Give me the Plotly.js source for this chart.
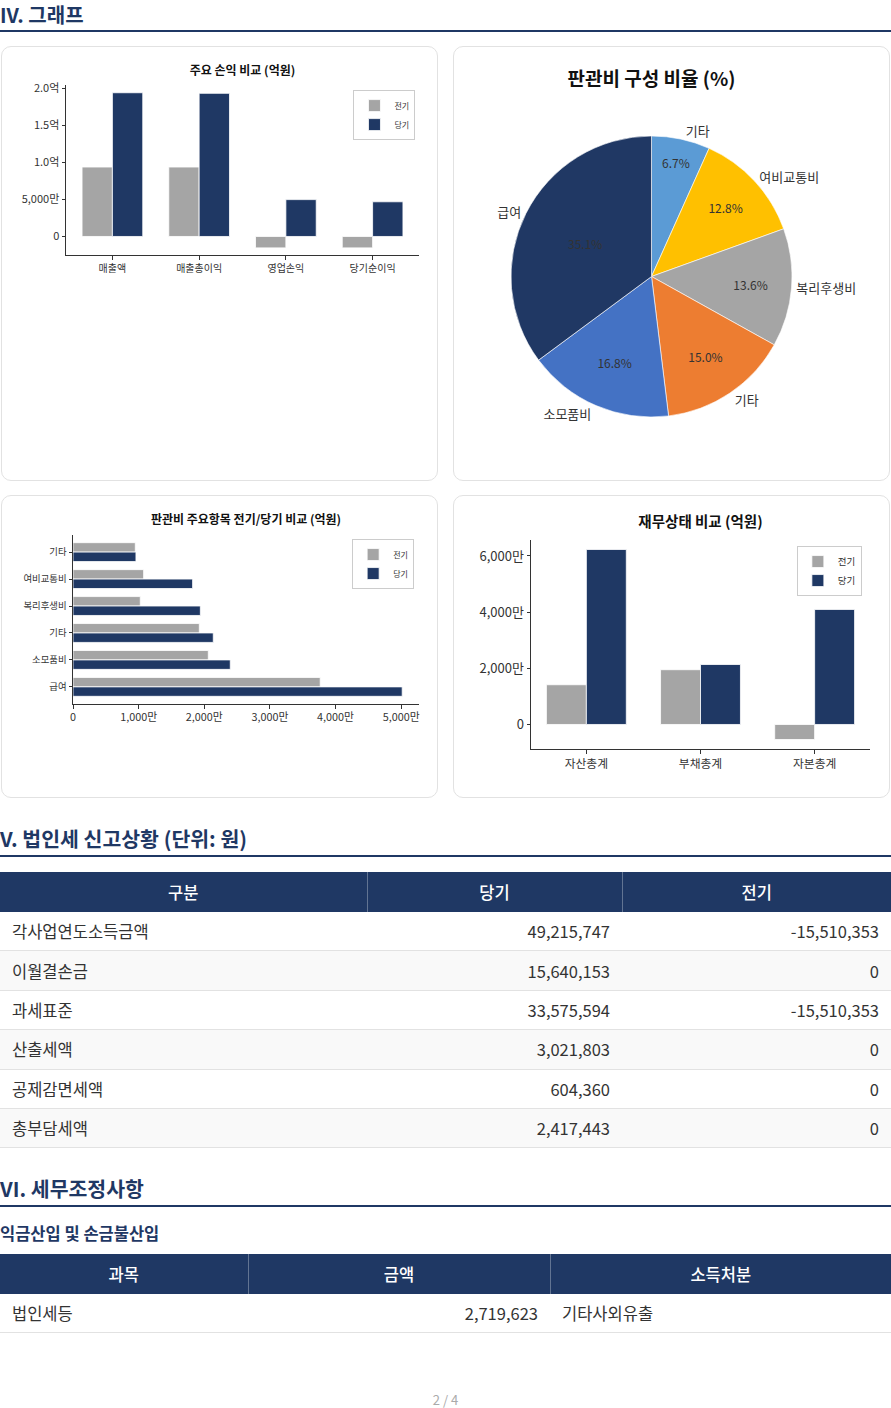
<!DOCTYPE html>
<html>
<head>
<meta charset="utf-8">
<script src="https://cdn.plot.ly/plotly-3.0.1.min.js"></script>
<style>
body { margin: 0; background: #fff; font-family: "Noto Sans CJK KR", "Noto Sans", sans-serif; color: #333; }
#page { position: relative; width: 891px; height: 1408px; overflow: hidden; }
.sec { position: absolute; left: 0; width: 891px; font-size: 20.5px; font-weight: 600; color: #1F3864;
       line-height: 26px; padding-bottom: 4px; border-bottom: 2px solid #1F3864; }
.sec.first { line-height: 30px; padding-bottom: 0; font-size: 20px; }
.sub { position: absolute; left: 0; font-size: 16.5px; font-weight: 700; color: #1F3864; line-height: 20px; }
.card { position: absolute; box-sizing: border-box; border: 1px solid #e2e2e2; border-radius: 10px; background: #fff; }
.plot { position: absolute; }
table { position: absolute; left: 0; width: 891px; border-collapse: collapse; table-layout: fixed; font-size: 16.5px; }
th { background: #1F3864; color: #fff; font-weight: 500; height: 40px; padding: 0; border-left: 1px solid rgba(255,255,255,.3); }
th:first-child { border-left: none; }
td { height: 38.4px; padding: 0 12px; border-bottom: 1px solid #e2e2e2; color: #333; }
tbody tr:nth-child(even) td { background: #f9f9f9; }
td.num { text-align: right; }
#foot { position: absolute; left: 0; width: 891px; top: 1390px; line-height: 20px; text-align: center; font-size: 13px; color: #aaa; }
</style>
</head>
<body>
<div id="page">
  <div class="sec first" style="top:0px">IV. 그래프</div>
  <div class="card" style="left:1px;top:46px;width:437px;height:435px"></div>
  <div class="card" style="left:453px;top:46px;width:437px;height:435px"></div>
  <div class="card" style="left:1px;top:495px;width:437px;height:303px"></div>
  <div class="card" style="left:453px;top:495px;width:437px;height:303px"></div>
  <div id="chart1" class="plot" style="left:2px;top:47px"></div>
  <div id="chart2" class="plot" style="left:455px;top:47px"></div>
  <div id="chart3" class="plot" style="left:2px;top:496px"></div>
  <div id="chart4" class="plot" style="left:455px;top:496px"></div>

  <div class="sec" style="top:825px">V. 법인세 신고상황 (단위: 원)</div>
  <table id="taxTable" style="top:872px">
    <colgroup><col style="width:367px"><col style="width:255px"><col style="width:269px"></colgroup>
    <thead><tr><th>구분</th><th>당기</th><th>전기</th></tr></thead>
    <tbody></tbody>
  </table>

  <div class="sec" style="top:1175px">VI. 세무조정사항</div>
  <div class="sub" style="top:1223px">익금산입 및 손금불산입</div>
  <table id="adjTable" style="top:1254px">
    <colgroup><col style="width:248px"><col style="width:302px"><col style="width:341px"></colgroup>
    <thead><tr><th>과목</th><th>금액</th><th>소득처분</th></tr></thead>
    <tbody></tbody>
  </table>

  <div id="foot">2 / 4</div>
</div>

<script>
var FONT = '"Noto Sans CJK KR", "Noto Sans", sans-serif';
var GRAY = '#A5A5A5';
var NAVY = '#1F3864';

// 주요 손익 (만원)
var plCats = ['매출액', '매출총이익', '영업손익', '당기순이익'];
var plPrev = [9370, 9370, -1540, -1540];
var plCur = [19395, 19315, 4973, 4680];
var plTickVals = [0, 5000, 10000, 15000, 20000];
var plTickText = ['0', '5,000만', '1.0억', '1.5억', '2.0억'];

// 판관비 주요항목 (만원), 아래에서 위 순서
var sgaCats = ['급여', '소모품비', '기타', '복리후생비', '여비교통비', '기타'];
var sgaPrev = [3766, 2061, 1924, 1025, 1076, 949];
var sgaCur = [5015, 2396, 2137, 1940, 1822, 959];
var sgaTickVals = [0, 1000, 2000, 3000, 4000, 5000];
var sgaTickText = ['0', '1,000만', '2,000만', '3,000만', '4,000만', '5,000만'];
var pieColors = ['#203864', '#4472C4', '#ED7D31', '#A5A5A5', '#FFC000', '#5B9BD5'];

// 재무상태 (만원)
var bsCats = ['자산총계', '부채총계', '자본총계'];
var bsPrev = [1415, 1950, -535];
var bsCur = [6230, 2135, 4095];
var bsTickVals = [0, 2000, 4000, 6000];
var bsTickText = ['0', '2,000만', '4,000만', '6,000만'];

// 법인세 신고상황 (원)
var taxItems = ['각사업연도소득금액', '이월결손금', '과세표준', '산출세액', '공제감면세액', '총부담세액'];
var taxCur = [49215747, 15640153, 33575594, 3021803, 604360, 2417443];
var taxPrev = [-15510353, 0, -15510353, 0, 0, 0];

// 세무조정
var adjItems = ['법인세등'];
var adjAmounts = [2719623];
var adjDisposal = ['기타사외유출'];

function fmt(v) { return v.toLocaleString('en-US'); }
function idx(arr) { return arr.map(function (c, i) { return i; }); }
function rev(arr) { return arr.slice().reverse(); }

function axis(extra) {
  return Object.assign({
    showline: true, linecolor: '#333', linewidth: 1,
    ticks: 'outside', ticklen: 3.5, tickwidth: 1, tickcolor: '#333',
    showgrid: false, zeroline: false, fixedrange: true
  }, extra);
}

function legendAt(x, y, size) {
  return { x: x, y: y, xanchor: 'right', yanchor: 'top', bgcolor: '#fff',
           bordercolor: '#ccc', borderwidth: 1, font: { size: size, color: '#333' }, itemwidth: 30 };
}

var conf = { staticPlot: true };
var barLine = { color: '#fff', width: 0.8 };

//=====================
// 주요 손익 비교
//=====================
Plotly.newPlot('chart1', [
  { type: 'bar', name: '전기', x: idx(plCats), y: plPrev, width: 0.35, offset: -0.35,
    marker: { color: GRAY, line: barLine } },
  { type: 'bar', name: '당기', x: idx(plCats), y: plCur, width: 0.35, offset: 0,
    marker: { color: NAVY, line: barLine } }
], {
  width: 434, height: 240, margin: { l: 64, r: 17, t: 38, b: 32 },
  barmode: 'overlay', showlegend: true,
  font: { family: FONT, size: 10, color: '#333' },
  paper_bgcolor: 'rgba(0,0,0,0)', plot_bgcolor: 'rgba(0,0,0,0)',
  title: { text: '주요 손익 비교 (억원)', font: { size: 12, color: '#111', weight: 700 },
           x: 0.5, xref: 'paper', xanchor: 'center', y: 0.9, yref: 'container', yanchor: 'middle' },
  xaxis: axis({ range: [-0.535, 3.535], tickvals: idx(plCats), ticktext: plCats, tickfont: { size: 10 } }),
  yaxis: axis({ range: [-2500, 20440], tickvals: plTickVals, ticktext: plTickText, tickfont: { size: 11 } }),
  legend: legendAt(0.99, 0.97, 8)
}, conf);

//=====================
// 판관비 구성 비율 (12시부터 시계방향)
//=====================
var pieDomain = { x: [56 / 433, 337 / 433], y: [50 / 420, 331 / 420] };
Plotly.newPlot('chart2', [
  { type: 'pie', values: rev(sgaCur), sort: false, direction: 'clockwise', rotation: 0,
    marker: { colors: rev(pieColors), line: { color: '#fff', width: 0.6 } },
    texttemplate: '%{percent:.1%}', textposition: 'inside', insidetextorientation: 'horizontal',
    insidetextfont: { size: 12, color: '#333' }, hoverinfo: 'none', domain: pieDomain, showlegend: false },
  { type: 'pie', values: rev(sgaCur), sort: false, direction: 'clockwise', rotation: 0,
    marker: { colors: sgaCats.map(function () { return 'rgba(0,0,0,0)'; }), line: { width: 0 } },
    text: rev(sgaCats), texttemplate: '%{text}', textposition: 'outside',
    outsidetextfont: { size: 13, color: '#333' }, hoverinfo: 'none', domain: pieDomain, showlegend: false }
], {
  width: 433, height: 420, margin: { l: 0, r: 0, t: 0, b: 0 },
  font: { family: FONT, size: 12, color: '#333' },
  paper_bgcolor: 'rgba(0,0,0,0)',
  title: { text: '판관비 구성 비율 (%)', font: { size: 19, color: '#111', weight: 700 },
           x: 196.5 / 433, xref: 'container', xanchor: 'center', y: 0.924, yref: 'container', yanchor: 'middle' }
}, conf);

//=====================
// 판관비 주요항목 전기/당기
//=====================
Plotly.newPlot('chart3', [
  { type: 'bar', orientation: 'h', name: '전기', y: idx(sgaCats), x: sgaPrev, width: 0.35, offset: 0,
    marker: { color: GRAY, line: barLine } },
  { type: 'bar', orientation: 'h', name: '당기', y: idx(sgaCats), x: sgaCur, width: 0.35, offset: -0.35,
    marker: { color: NAVY, line: barLine } }
], {
  width: 434, height: 240, margin: { l: 71, r: 17, t: 39, b: 32 },
  barmode: 'overlay', showlegend: true,
  font: { family: FONT, size: 10, color: '#333' },
  paper_bgcolor: 'rgba(0,0,0,0)', plot_bgcolor: 'rgba(0,0,0,0)',
  title: { text: '판관비 주요항목 전기/당기 비교 (억원)', font: { size: 12, color: '#111', weight: 700 },
           x: 0.5, xref: 'paper', xanchor: 'center', y: 0.9, yref: 'container', yanchor: 'middle' },
  xaxis: axis({ range: [0, 5271], tickvals: sgaTickVals, ticktext: sgaTickText, tickfont: { size: 10.8 } }),
  yaxis: axis({ range: [-0.635, 5.635], tickvals: idx(sgaCats), ticktext: sgaCats, tickfont: { size: 9.4 } }),
  legend: legendAt(0.986, 0.976, 8)
}, conf);

//=====================
// 재무상태 비교
//=====================
Plotly.newPlot('chart4', [
  { type: 'bar', name: '전기', x: idx(bsCats), y: bsPrev, width: 0.35, offset: -0.35,
    marker: { color: GRAY, line: barLine } },
  { type: 'bar', name: '당기', x: idx(bsCats), y: bsCur, width: 0.35, offset: 0,
    marker: { color: NAVY, line: barLine } }
], {
  width: 433, height: 290, margin: { l: 76, r: 18, t: 44, b: 37 },
  barmode: 'overlay', showlegend: true,
  font: { family: FONT, size: 12, color: '#333' },
  paper_bgcolor: 'rgba(0,0,0,0)', plot_bgcolor: 'rgba(0,0,0,0)',
  title: { text: '재무상태 비교 (억원)', font: { size: 14.5, color: '#111', weight: 700 },
           x: 0.5, xref: 'paper', xanchor: 'center', y: 0.909, yref: 'container', yanchor: 'middle' },
  xaxis: axis({ range: [-0.485, 2.485], tickvals: idx(bsCats), ticktext: bsCats, tickfont: { size: 11.8 } }),
  yaxis: axis({ range: [-873, 6568], tickvals: bsTickVals, ticktext: bsTickText, tickfont: { size: 13 } }),
  legend: legendAt(0.976, 0.971, 9.5)
}, conf);

//=====================
// 표
//=====================
var tb = document.querySelector('#taxTable tbody');
taxItems.forEach(function (name, i) {
  var tr = document.createElement('tr');
  tr.innerHTML = '<td>' + name + '</td><td class="num">' + fmt(taxCur[i]) +
                 '</td><td class="num">' + fmt(taxPrev[i]) + '</td>';
  tb.appendChild(tr);
});

var ab = document.querySelector('#adjTable tbody');
adjItems.forEach(function (name, i) {
  var tr = document.createElement('tr');
  tr.innerHTML = '<td>' + name + '</td><td class="num">' + fmt(adjAmounts[i]) +
                 '</td><td>' + adjDisposal[i] + '</td>';
  ab.appendChild(tr);
});
</script>
</body>
</html>
